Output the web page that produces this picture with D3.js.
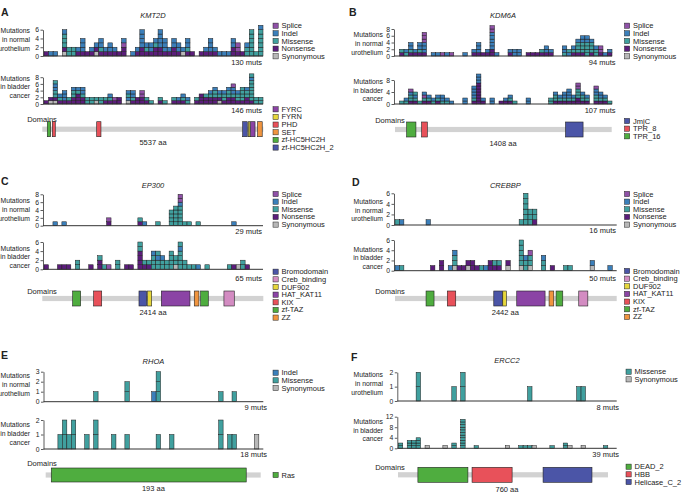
<!DOCTYPE html>
<html>
<head>
<meta charset="utf-8">
<script src="https://cdn.jsdelivr.net/npm/d3@7"></script>
<style>
  body { margin: 0; background: #fff; }
  svg text { font-family: "Liberation Sans", Arial, sans-serif; fill: #222; }
</style>
</head>
<body>
<div id="chart"></div>
<script>
// ---- data ----
const panelLetters = ["A", "B", "C", "D", "E", "F"];
const genes = ["KMT2D", "KDM6A", "EP300", "CREBBP", "RHOA", "ERCC2"];
const proteinLengths = [5537, 1408, 2414, 2442, 193, 760];
const normalTotals = [130, 94, 29, 16, 9, 8];
const cancerTotals = [146, 107, 65, 50, 18, 39];
const binCounts = [48, 48, 49, 50, 49, 49];
const normalTicks = [[0, 2, 4, 6], [0, 2, 4, 6, 8], [0, 2, 4, 6, 8], [0, 2, 4, 6], [0, 1, 2, 3], [0, 1, 2]];
const cancerTicks = [[0, 2, 4, 6, 8], [0, 4, 8], [0, 2, 4, 6], [0, 2, 4, 6], [0, 1, 2], [0, 4, 8, 12]];

// mutation classes: S splice, I indel, M missense, N nonsense, Y synonymous
const mutationClasses = ["S", "I", "M", "N", "Y"];
const mutationNames = ["Splice", "Indel", "Missense", "Nonsense", "Synonymous"];
const mutationLegends = ["SIMNY", "SIMNY", "SIMNY", "SIMNY", "IMY", "MY"];

// bars: [bin, stack from bottom to top]
const normalBars = [
  [[0,"N"],[1,"I"],[2,"I"],[4,"YNMMMI"],[5,"MM"],[6,"MM"],[7,"NI"],[8,"NIII"],[9,"N"],[10,"NI"],[11,"YNI"],[12,"NMII"],[13,"NI"],[14,"NII"],[15,"NI"],[16,"N"],[17,"NNSI"],[19,"I"],[20,"NI"],[21,"NNIIII"],[22,"NMI"],[23,"NII"],[24,"NNMI"],[25,"NNIIII"],[26,"NIII"],[27,"NI"],[28,"NNII"],[29,"NII"],[30,"YI"],[31,"NMII"],[32,"N"],[34,"N"],[35,"NI"],[36,"NIII"],[37,"NI"],[38,"I"],[39,"I"],[40,"I"],[41,"NNII"],[42,"NSS"],[43,"N"],[44,"MMI"],[45,"MMMMMM"],[46,"M"],[47,"MMMMMMI"]],
  [[1,"NM"],[2,"MI"],[3,"NMII"],[4,"NI"],[5,"NMII"],[6,"NIIISSS"],[8,"I"],[9,"I"],[10,"S"],[11,"I"],[12,"S"],[15,"I"],[17,"NI"],[18,"NIII"],[19,"N"],[20,"NI"],[21,"NNIIIIISS"],[22,"I"],[25,"NI"],[26,"II"],[27,"II"],[29,"N"],[30,"N"],[31,"N"],[32,"NM"],[33,"NII"],[34,"NI"],[37,"MII"],[38,"IM"],[39,"NMI"],[40,"NMMMI"],[41,"NMMMII"],[42,"MMMMII"],[43,"NMMMI"],[44,"MMI"],[45,"NSS"],[46,"I"],[47,"NI"]],
  [[2,"I"],[4,"I"],[14,"NS"],[21,"NM"],[22,"I"],[25,"M"],[28,"MMMM"],[29,"MMMMM"],[30,"MMMMMISS"],[31,"M"],[32,"M"],[34,"M"],[42,"I"]],
  [[0,"M"],[1,"I"],[7,"I"],[28,"M"],[29,"MMMMMM"],[30,"MMM"],[31,"NMM"]],
  [[11,"M"],[18,"MM"],[24,"I"],[25,"MMM"],[39,"M"],[42,"M"]],
  [[4,"MM"],[12,"M"],[14,"MM"],[29,"M"],[40,"M"],[41,"M"]]
];
const cancerBars = [
  [[0,"N"],[1,"YN"],[2,"YNMMIIM"],[3,"NMI"],[4,"NIII"],[5,"NM"],[6,"NNMMI"],[7,"NNNMI"],[8,"NNMII"],[9,"MM"],[10,"MM"],[11,"YM"],[12,"MM"],[13,"NM"],[14,"NMI"],[15,"NS"],[16,"NN"],[18,"YIMI"],[19,"NMII"],[20,"NN"],[21,"NNSS"],[22,"NM"],[23,"M"],[25,"NM"],[26,"M"],[28,"NM"],[29,"NI"],[30,"NMI"],[31,"MI"],[33,"NM"],[34,"NNN"],[35,"NNM"],[36,"NNMI"],[37,"NNMMI"],[38,"YNMI"],[39,"NMMI"],[40,"NNMMI"],[41,"NNMIIS"],[42,"NMMI"],[43,"NMMMM"],[44,"NNMMI"],[45,"NMMMMMMIM"],[46,"MM"],[47,"MM"]],
  [[1,"M"],[2,"MI"],[3,"NMMIS"],[4,"NMIM"],[5,"M"],[6,"NMSI"],[7,"NMI"],[8,"MI"],[9,"NMI"],[10,"MII"],[11,"MI"],[12,"I"],[15,"II"],[17,"NMIIII"],[18,"NNNNNNNIII"],[19,"NI"],[21,"II"],[23,"N"],[24,"NI"],[25,"NMI"],[26,"M"],[29,"II"],[34,"MM"],[35,"NMMI"],[36,"NMI"],[37,"NMII"],[38,"NMIII"],[39,"NMI"],[40,"NNMMMSS"],[41,"NMMI"],[42,"NMI"],[44,"NMMIIS"],[45,"NMII"],[46,"NMI"],[47,"M"]],
  [[0,"N"],[3,"N"],[4,"N"],[5,"N"],[7,"MM"],[10,"N"],[12,"NNM"],[13,"M"],[14,"S"],[16,"MM"],[18,"N"],[19,"N"],[21,"NNNNMM"],[22,"NM"],[23,"NM"],[24,"MMMI"],[25,"MMIM"],[26,"MMI"],[27,"MM"],[28,"MMMM"],[29,"YMM"],[30,"MMMMIM"],[31,"MM"],[32,"M"],[33,"M"],[34,"I"],[36,"M"],[41,"M"],[42,"N"],[43,"Y"],[44,"MM"],[45,"N"]],
  [[0,"I"],[1,"M"],[8,"N"],[10,"NN"],[12,"I"],[13,"YMMI"],[14,"N"],[15,"N"],[16,"YN"],[17,"NN"],[18,"N"],[19,"M"],[20,"I"],[21,"NN"],[22,"NM"],[23,"NM"],[25,"YN"],[28,"YMMMMM"],[29,"MMI"],[30,"YMMS"],[33,"MMI"],[35,"N"],[38,"M"],[39,"M"],[44,"YI"],[48,"I"]],
  [[3,"M"],[4,"MM"],[5,"M"],[6,"MM"],[9,"M"],[11,"MM"],[15,"M"],[18,"M"],[25,"M"],[28,"M"],[39,"MM"],[41,"M"],[42,"M"],[47,"Y"]],
  [[0,"MM"],[2,"MMM"],[3,"MMM"],[4,"MMMM"],[6,"Y"],[10,"Y"],[12,"MM"],[14,"MMMMMMMMMMM"],[17,"M"],[24,"Y"],[27,"M"],[28,"M"],[29,"M"],[30,"Y"],[34,"M"],[37,"MM"],[38,"Y"],[41,"Y"],[46,"M"]]
];

// protein domains: [name, start aa, end aa]
const domains = [
  [["zf-HC5HC2H",125,210],["PHD",250,325],["PHD",1363,1470],["zf-HC5HC2H_2",5020,5135],["FYRN",5160,5203],["FYRC",5220,5330],["SET",5395,5510]],
  [["TPR_16",76,136],["TPR_8",173,210],["JmjC",1108,1222]],
  [["zf-TAZ",332,419],["KIX",561,649],["Bromodomain",1056,1140],["DUF902",1151,1195],["HAT_KAT11",1300,1613],["ZZ",1660,1711],["zf-TAZ",1730,1813],["Creb_binding",1984,2097]],
  [["zf-TAZ",342,430],["KIX",576,669],["Bromodomain",1088,1183],["DUF902",1187,1227],["HAT_KAT11",1341,1653],["ZZ",1697,1749],["zf-TAZ",1774,1848],["Creb_binding",2024,2124]],
  [["Ras",5,180]],
  [["DEAD_2",72,253],["HBB",268,413],["Helicase_C_2",525,702]]
];
const domainLegends = [
  ["FYRC","FYRN","PHD","SET","zf-HC5HC2H","zf-HC5HC2H_2"],
  ["JmjC","TPR_8","TPR_16"],
  ["Bromodomain","Creb_binding","DUF902","HAT_KAT11","KIX","zf-TAZ","ZZ"],
  ["Bromodomain","Creb_binding","DUF902","HAT_KAT11","KIX","zf-TAZ","ZZ"],
  ["Ras"],
  ["DEAD_2","HBB","Helicase_C_2"]
];

// ---- styles ----
const mutationColors = {S: "#8f51a7", I: "#3b7fba", M: "#40a09f", N: "#5b1d7b", Y: "#b8b8b8"};
const domainColors = {
  "Bromodomain": "#4b55a7", "JmjC": "#4b55a7", "zf-HC5HC2H_2": "#4b55a7", "Helicase_C_2": "#4b55a7",
  "Creb_binding": "#d38cc2",
  "DUF902": "#e6d73c", "FYRN": "#e6d73c",
  "HAT_KAT11": "#8b44a5", "FYRC": "#8b44a5",
  "KIX": "#e8515a", "PHD": "#e8515a", "TPR_8": "#e8515a", "HBB": "#e8515a",
  "zf-TAZ": "#4fad3f", "zf-HC5HC2H": "#4fad3f", "TPR_16": "#4fad3f", "DEAD_2": "#4fad3f", "Ras": "#4fad3f",
  "ZZ": "#f0953f", "SET": "#f0953f"
};

// ---- layout (pixel positions per panel) ----
const layouts = [
  {letterX: 1, letterY: 12, titleY: 15, ax: 43, ex: 263, mutsX: 262, labX: 30, legX: 273,
   normal: {base: 56, top: 29.7, labelY: 39.5, mutsY: 62, legY: 25.7},
   cancer: {base: 104, top: 77.2, labelY: 86.7, mutsY: 110},
   dom: {labelX: 42, labelY: 119, x0: 42.3, x1: 263.3, y: 129.2, h: 15, aaY: 142, legY: 109.3}},
  {letterX: 349, letterY: 12, titleY: 15, ax: 394, ex: 612, mutsX: 615.5, labX: 383, legX: 624.5,
   normal: {base: 56, top: 29, labelY: 43.4, mutsY: 62, legY: 25.7},
   cancer: {base: 104, top: 80, labelY: 90, mutsY: 110},
   dom: {labelX: 390, labelY: 120, x0: 395, x1: 611.7, y: 129.5, h: 15, aaY: 143, legY: 121}},
  {letterX: 1, letterY: 181, titleY: 185, ax: 43, ex: 263, mutsX: 262, labX: 30, legX: 273,
   normal: {base: 225.7, top: 194.3, labelY: 209.3, mutsY: 231, legY: 194},
   cancer: {base: 269.3, top: 242, labelY: 256.7, mutsY: 278},
   dom: {labelX: 42, labelY: 291, x0: 42.3, x1: 263.3, y: 298.5, h: 15, aaY: 312, legY: 271.7}},
  {letterX: 352, letterY: 181.5, titleY: 185, ax: 394, ex: 616.7, mutsX: 616, labX: 383, legX: 624.5,
   normal: {base: 225, top: 193.3, labelY: 210, mutsY: 230, legY: 194},
   cancer: {base: 270.7, top: 240, labelY: 257.7, mutsY: 278},
   dom: {labelX: 390, labelY: 291, x0: 395, x1: 616.7, y: 298.5, h: 15, aaY: 312.3, legY: 271}},
  {letterX: 1, letterY: 355, titleY: 361.7, ax: 43.5, ex: 263.3, mutsX: 267, labX: 30, legX: 273,
   normal: {base: 401.7, top: 371.7, labelY: 384.3, mutsY: 407, legY: 372.7},
   cancer: {base: 449, top: 420, labelY: 433.5, mutsY: 454},
   dom: {labelX: 42, labelY: 463, x0: 45.7, x1: 260.7, y: 475, h: 14, aaY: 488, legY: 475}},
  {letterX: 351, letterY: 356.5, titleY: 360.5, ax: 397.3, ex: 616.7, mutsX: 619, labX: 383, legX: 626,
   normal: {base: 401, top: 372.3, labelY: 383.3, mutsY: 407, legY: 371.7},
   cancer: {base: 448.3, top: 416.7, labelY: 430, mutsY: 454},
   dom: {labelX: 390, labelY: 467.7, x0: 398, x1: 608, y: 474.8, h: 15, aaY: 489, legY: 466.7}}
];

const svg = d3.select("#chart").append("svg")
  .attr("width", 684)
  .attr("height", 496);

function drawPlot(g, L, P, bars, ticks, x, lines, total) {
  const y = d3.scaleLinear().domain([0, ticks[ticks.length - 1]]).range([P.base, P.top]);

  // flatten stacks into segments
  const segs = [];
  bars.forEach(function (b) {
    for (let j = 0; j < b[1].length; j++) {
      segs.push({bin: b[0], k: j, cat: b[1][j]});
    }
  });

  g.append("g").selectAll("rect")
    .data(segs)
    .enter()
    .append("rect")
      .attr("x", function (d) { return x(d.bin); })
      .attr("width", function (d) { return x(d.bin + 1) - x(d.bin); })
      .attr("y", function (d) { return y(d.k + 1); })
      .attr("height", function (d) { return y(d.k) - y(d.k + 1); })
      .attr("fill", function (d) { return mutationColors[d.cat]; })
      .attr("stroke", "#1c1c1c")
      .attr("stroke-width", 0.5);

  // y axis
  const axis = g.append("g")
    .attr("transform", "translate(" + L.ax + ",0)")
    .call(d3.axisLeft(y).tickValues(ticks).tickFormat(d3.format("d"))
      .tickSize(2.5).tickSizeOuter(0).tickPadding(1.5));
  axis.selectAll("path, line").attr("stroke", "#333").attr("stroke-width", 0.8);
  axis.selectAll("text").style("font-size", "6.8px").attr("fill", "#222");

  // baseline
  g.append("line")
    .attr("x1", L.ax).attr("x2", L.ex)
    .attr("y1", P.base).attr("y2", P.base)
    .attr("stroke", "#333").attr("stroke-width", 1);

  // y label
  g.append("g").selectAll("text")
    .data(lines)
    .enter()
    .append("text")
      .attr("x", L.labX)
      .attr("y", function (d, k) { return P.labelY + (k - 1) * 8.7; })
      .attr("text-anchor", "end")
      .attr("dominant-baseline", "central")
      .style("font-size", "6.8px")
      .text(function (d) { return d; });

  g.append("text")
    .attr("x", L.mutsX)
    .attr("y", P.mutsY)
    .attr("text-anchor", "end")
    .attr("dominant-baseline", "central")
    .style("font-size", "7.5px")
    .text(total + " muts");
}

function drawLegend(g, x0, y0, items, colorOf, labelOf) {
  const row = g.append("g").selectAll("g")
    .data(items)
    .enter()
    .append("g")
      .attr("transform", function (d, k) { return "translate(" + x0 + "," + (y0 + k * 7.65) + ")"; });
  row.append("rect")
    .attr("x", 0).attr("y", -2.6)
    .attr("width", 5.2).attr("height", 5.2)
    .attr("fill", colorOf)
    .attr("stroke", "#222").attr("stroke-width", 0.5);
  row.append("text")
    .attr("x", 8.5)
    .attr("y", 0)
    .attr("dominant-baseline", "central")
    .style("font-size", "7.5px")
    .text(labelOf);
}

layouts.forEach(function (L, i) {
  const g = svg.append("g");

  g.append("text")
    .attr("x", L.letterX).attr("y", L.letterY)
    .attr("dominant-baseline", "central")
    .style("font-size", "10.5px").style("font-weight", "bold")
    .text(panelLetters[i]);

  g.append("text")
    .attr("x", (L.ax + L.ex) / 2).attr("y", L.titleY)
    .attr("text-anchor", "middle").attr("dominant-baseline", "central")
    .style("font-size", "7.5px").style("font-style", "italic").attr("fill", "#333")
    .text(genes[i]);

  const x = d3.scaleLinear().domain([0, binCounts[i]]).range([L.ax + 1, L.ex]);

  drawPlot(g, L, L.normal, normalBars[i], normalTicks[i], x, ["Mutations", "in normal", "urothelium"], normalTotals[i]);
  drawPlot(g, L, L.cancer, cancerBars[i], cancerTicks[i], x, ["Mutations", "in bladder", "cancer"], cancerTotals[i]);

  // domain track
  const D = L.dom;
  const xa = d3.scaleLinear().domain([0, proteinLengths[i]]).range([D.x0, D.x1]);
  g.append("text")
    .attr("x", D.labelX).attr("y", D.labelY)
    .attr("text-anchor", "middle").attr("dominant-baseline", "central")
    .style("font-size", "7.5px")
    .text("Domains");
  g.append("rect")
    .attr("x", xa(0)).attr("width", xa(proteinLengths[i]) - xa(0))
    .attr("y", D.y - 2.6).attr("height", 5.2)
    .attr("fill", "#d2d2d2");
  g.append("g").selectAll("rect")
    .data(domains[i])
    .enter()
    .append("rect")
      .attr("x", function (d) { return xa(d[1]); })
      .attr("width", function (d) { return xa(d[2]) - xa(d[1]); })
      .attr("y", D.y - D.h / 2)
      .attr("height", D.h)
      .attr("fill", function (d) { return domainColors[d[0]]; })
      .attr("stroke", "#222").attr("stroke-width", 0.6);
  g.append("text")
    .attr("x", (L.ax + L.ex) / 2).attr("y", D.aaY)
    .attr("text-anchor", "middle").attr("dominant-baseline", "central")
    .style("font-size", "7.5px")
    .text(proteinLengths[i] + " aa");

  // legends
  const cats = mutationLegends[i].split("");
  drawLegend(g, L.legX, L.normal.legY, cats,
    function (d) { return mutationColors[d]; },
    function (d) { return mutationNames[mutationClasses.indexOf(d)]; });
  drawLegend(g, L.legX, D.legY, domainLegends[i],
    function (d) { return domainColors[d]; },
    function (d) { return d; });
});
</script>
</body>
</html>
